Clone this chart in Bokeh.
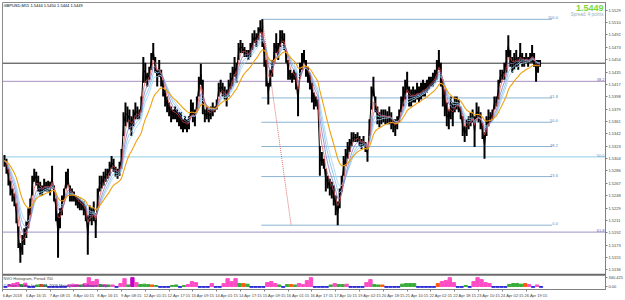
import numpy as np
from bokeh.plotting import figure
from bokeh.models import Range1d, FixedTicker, Span, Label, ColumnDataSource, PrintfTickFormatter
from bokeh.core.properties import value
from bokeh.embed import file_html
from bokeh.resources import INLINE

# ---------------- data ----------------
hi = [
    1.53100, 1.53040, 1.52890, 1.52710, 1.52590, 1.52515, 1.52365, 1.52020, 1.51765, 1.51885,
    1.51990, 1.52095, 1.52290, 1.52440, 1.52785, 1.52890, 1.52845, 1.52785, 1.52695, 1.52635,
    1.52740, 1.52695, 1.52710, 1.52695, 1.52935, 1.52635, 1.52440, 1.52215, 1.52290, 1.52485,
    1.52590, 1.52845, 1.52890, 1.52635, 1.52590, 1.52545, 1.52485, 1.52470, 1.52440, 1.52410,
    1.52395, 1.52335, 1.52185, 1.52335, 1.52290, 1.52395, 1.52215, 1.52590, 1.52785, 1.52785,
    1.52845, 1.52890, 1.52890, 1.52995, 1.53085, 1.53040, 1.52920, 1.52890, 1.52995, 1.53190,
    1.53745, 1.53895, 1.53835, 1.53790, 1.53685, 1.53790, 1.53895, 1.53835, 1.53790, 1.53985,
    1.54585, 1.54495, 1.54345, 1.54435, 1.54645, 1.54795, 1.54585, 1.54390, 1.54540, 1.54390,
    1.54240, 1.54090, 1.53985, 1.53895, 1.53835, 1.53790, 1.53835, 1.53790, 1.53745, 1.53745,
    1.53640, 1.53685, 1.53640, 1.53685, 1.53940, 1.53895, 1.53790, 1.53985, 1.54285, 1.54480,
    1.54240, 1.53790, 1.53835, 1.53790, 1.53835, 1.53895, 1.53835, 1.53940, 1.54195, 1.54240,
    1.54195, 1.54135, 1.54090, 1.54240, 1.54345, 1.54435, 1.54585, 1.54495, 1.54795, 1.54840,
    1.54795, 1.54735, 1.54690, 1.54690, 1.54795, 1.54945, 1.54990, 1.54945, 1.55035, 1.55140,
    1.55155, 1.54795, 1.54540, 1.54195, 1.54390, 1.54540, 1.54795, 1.54945, 1.54795, 1.54990,
    1.54990, 1.54945, 1.54645, 1.54540, 1.54390, 1.54345, 1.54390, 1.54345, 1.54135, 1.54495,
    1.54645, 1.54690, 1.54540, 1.54435, 1.54345, 1.54195, 1.54045, 1.53985, 1.53940, 1.53235,
    1.53145, 1.53040, 1.52890, 1.52785, 1.52740, 1.52695, 1.52635, 1.52485, 1.52395, 1.52590,
    1.52785, 1.53085, 1.53190, 1.53295, 1.53340, 1.53445, 1.53445, 1.53415, 1.53445, 1.53385,
    1.53340, 1.53385, 1.53295, 1.53235, 1.53640, 1.54135, 1.54285, 1.53985, 1.53835, 1.53745,
    1.53790, 1.53790, 1.53790, 1.53760, 1.53835, 1.53745, 1.53640, 1.53640, 1.53685, 1.53790,
    1.53985, 1.54135, 1.54240, 1.54360, 1.54135, 1.54090, 1.54135, 1.54090, 1.54195, 1.54135,
    1.54195, 1.54240, 1.54195, 1.54240, 1.54285, 1.54285, 1.54345, 1.54390, 1.54540, 1.54690,
    1.54495, 1.54240, 1.54090, 1.53895, 1.53790, 1.53985, 1.53895, 1.53985, 1.53985, 1.53940,
    1.53835, 1.53685, 1.53535, 1.53640, 1.53685, 1.53745, 1.53790, 1.53685, 1.53895, 1.53835,
    1.53745, 1.53595, 1.53445, 1.53685, 1.53790, 1.53745, 1.53790, 1.53985, 1.53985, 1.54240,
    1.54390, 1.54390, 1.54495, 1.54690, 1.54915, 1.54690, 1.54585, 1.54645, 1.54690, 1.54585,
    1.54795, 1.54645, 1.54585, 1.54645, 1.54585, 1.54645, 1.54765, 1.54645, 1.54540, 1.54540,
    1.54540,
]
lo = [
    1.52920, 1.52815, 1.52635, 1.52485, 1.52395, 1.52320, 1.52065, 1.51690, 1.51465, 1.51585,
    1.51735, 1.51840, 1.51990, 1.52185, 1.52485, 1.52695, 1.52635, 1.52545, 1.52485, 1.52485,
    1.52545, 1.52545, 1.52545, 1.52485, 1.52590, 1.52395, 1.52095, 1.51540, 1.51990, 1.52185,
    1.52395, 1.52590, 1.52635, 1.52395, 1.52395, 1.52395, 1.52335, 1.52290, 1.52260, 1.52260,
    1.52185, 1.52095, 1.51585, 1.52095, 1.52035, 1.52095, 1.51840, 1.52290, 1.52545, 1.52590,
    1.52635, 1.52695, 1.52740, 1.52785, 1.52890, 1.52845, 1.52770, 1.52740, 1.52785, 1.52890,
    1.53385, 1.53535, 1.53595, 1.53490, 1.53385, 1.53535, 1.53640, 1.53640, 1.53640, 1.53745,
    1.54195, 1.54195, 1.54135, 1.54240, 1.54390, 1.54540, 1.54345, 1.54135, 1.54285, 1.54135,
    1.53985, 1.53835, 1.53745, 1.53685, 1.53595, 1.53640, 1.53640, 1.53595, 1.53535, 1.53490,
    1.53445, 1.53490, 1.53445, 1.53490, 1.53685, 1.53595, 1.53535, 1.53790, 1.53985, 1.54165,
    1.53715, 1.53595, 1.53640, 1.53595, 1.53640, 1.53685, 1.53745, 1.53790, 1.53985, 1.54045,
    1.53985, 1.53940, 1.53835, 1.53985, 1.54090, 1.54135, 1.54285, 1.54195, 1.54540, 1.54645,
    1.54645, 1.54585, 1.54585, 1.54540, 1.54585, 1.54690, 1.54795, 1.54735, 1.54840, 1.54945,
    1.54735, 1.54435, 1.54135, 1.53865, 1.54135, 1.54285, 1.54495, 1.54645, 1.54540, 1.54735,
    1.54795, 1.54690, 1.54495, 1.54240, 1.54240, 1.54195, 1.54240, 1.54090, 1.53685, 1.54285,
    1.54390, 1.54495, 1.54285, 1.54195, 1.54090, 1.53895, 1.53790, 1.53835, 1.53790, 1.52785,
    1.52935, 1.52890, 1.52545, 1.52590, 1.52485, 1.52440, 1.52335, 1.52185, 1.52035, 1.52290,
    1.52545, 1.52785, 1.52935, 1.53040, 1.53145, 1.53235, 1.53295, 1.53295, 1.53295, 1.53235,
    1.53190, 1.53235, 1.53145, 1.52995, 1.53385, 1.53790, 1.53985, 1.53745, 1.53565, 1.53520,
    1.53565, 1.53595, 1.53565, 1.53565, 1.53565, 1.53490, 1.53445, 1.53385, 1.53490, 1.53595,
    1.53745, 1.53835, 1.53940, 1.54045, 1.53835, 1.53835, 1.53895, 1.53895, 1.53940, 1.53895,
    1.53940, 1.53985, 1.53985, 1.54045, 1.54090, 1.54135, 1.54135, 1.54195, 1.54240, 1.54390,
    1.54135, 1.53835, 1.53685, 1.53535, 1.53490, 1.53640, 1.53535, 1.53745, 1.53790, 1.53745,
    1.53640, 1.53385, 1.53295, 1.53385, 1.53490, 1.53535, 1.53595, 1.53220, 1.53640, 1.53595,
    1.53490, 1.53340, 1.53040, 1.53385, 1.53535, 1.53595, 1.53640, 1.53790, 1.53835, 1.53940,
    1.54195, 1.54240, 1.54240, 1.54345, 1.54585, 1.54435, 1.54345, 1.54390, 1.54435, 1.54390,
    1.54495, 1.54435, 1.54435, 1.54495, 1.54435, 1.54495, 1.54495, 1.54435, 1.54210, 1.54345,
    1.54435,
]

y_tick_values = [1.5529, 1.5510, 1.5492, 1.5473, 1.5454, 1.5435, 1.5417, 1.5398, 1.5379, 1.5361,
                 1.5342, 1.5323, 1.5304, 1.5286, 1.5267, 1.5248, 1.5229, 1.5211, 1.5192, 1.5173,
                 1.5155, 1.5136]

time_labels = ["6 Apr 2018", "6 Apr 16:15", "7 Apr 08:15", "8 Apr 00:15", "8 Apr 16:15",
               "9 Apr 08:15", "12 Apr 01:15", "12 Apr 17:15", "13 Apr 09:15", "14 Apr 01:15",
               "14 Apr 17:15", "15 Apr 09:15", "16 Apr 01:15", "16 Apr 17:15", "17 Apr 10:15",
               "19 Apr 02:15", "20 Apr 18:15", "21 Apr 10:15", "22 Apr 02:15", "22 Apr 18:15",
               "23 Apr 10:15", "24 Apr 02:15", "26 Apr 19:15"]

hist_vals = [
    -30, 76, 113, 151, 76, 130, -30, -30, 60, 76,
    60, -30, -30, -30, -30, -30, 60, 90, 76, 60,
    113, 340, 190, 270, 76, 76, 60, 60, -30, 113,
    300, 60, 340, 150, 76, 90, 76, 60, 40, -30,
    -30, -30, 40, 60, -30, 40, 76, 189, 150, -30,
    -30, -30, 113, -30, -30, 113, 300, 190, 302, 113,
    113, 90, -30, -30, -30, -30, 150, 189, 113, 60,
    -30, 76, 76, 60, 113, 76, 227, 340, -30, -30,
    -30, -30, 60, 113, 76, 76, 90, -30, -30, -30,
    -30, 150, 265, 76, 60, 60, -30, -30, -30, -30,
    90, 113, 113, 113, -30, -30, -30, -30, -30, 113,
    189, 227, 340, 150, -30, -30, 40, -30, 189, 340,
    265, 151, 113, -30, -30, -30, -30, 76, 113, 113,
    90, 113, 76, -30, 60, -30,
]
hist_kind = list("bpppgpbbgo" "gbbbbbpppg" "ppppgpgpbp" "pgmpgggogb" "bbggbgpppb"
                 "bbpbbppppg" "ogbbbbpppg" "bgogppppbb" "bbgpggpbbb" "bppggobbbb"
                 "ggggbbbbbo" "ppppbbgbpp" "pppbbbbggg" "gopbpb")

fib_levels = [0.0, 23.6, 38.2, 50.0, 61.8, 100.0]
fib_names = ["0.0", "23.6", "38.2", "50.0", "61.8", "100.0"]
ray_prices = [1.54215, 1.53070, 1.51930]
ray_names = ["38.2", "50.0", "61.8"]
last_price = 1.5449
title_text = "GBPUSD,M15  1.5444 1.5450 1.5444 1.5449"
hist_top = 340.425

# ---------------- layout constants ----------------
FONT = "Liberation Sans"
P_TOP, P_BOT = 1.55410, 1.51060
FR_TOP, FR_BOT = 2, 292
X0, X1 = -1, 303
H_UNIT = hist_top / 9.0
HS, HE = -(FR_BOT - 289) * H_UNIT, (289 - FR_TOP) * H_UNIT


def py(row):
    return P_TOP - (row - FR_TOP) / (FR_BOT - FR_TOP) * (P_TOP - P_BOT)


def hist_to_price(v):
    return P_BOT + (v - HS) / (HE - HS) * (P_TOP - P_BOT)


def ema(vals, n):
    a = 2.0 / (n + 1)
    e = vals[0]
    out = []
    for v in vals:
        e = e + a * (v - e)
        out.append(e)
    return out


bars = list(range(len(hi)))
mid = [(h + l) / 2 for h, l in zip(hi, lo)]
src = ColumnDataSource(dict(x=bars, hi=hi, lo=lo))

p = figure(width=625, height=300, x_range=Range1d(X0, X1), y_range=Range1d(P_BOT, P_TOP),
           y_axis_location="right", output_backend="svg", toolbar_location=None,
           min_border_left=2, min_border_right=0, min_border_top=2, min_border_bottom=0,
           background_fill_color="white", border_fill_color="white")
p.extra_y_ranges = {"hist": Range1d(HS, HE)}
p.grid.visible = False
p.outline_line_color = "#8c8c8c"

# long ray lines
ray_colors = ["#a890c0", "#8fcde8", "#a090c8"]
for pr, nm, c in zip(ray_prices, ray_names, ray_colors):
    p.add_layout(Span(location=pr, dimension="width", line_color=c, line_width=1, level="underlay"))
p.text(x=[302.5] * 3, y=ray_prices, text=ray_names, text_align="right", text_baseline="bottom",
       text_font=value(FONT), text_font_size="4px", text_color=["#7060a0", "#5a9cc8", "#7060a0"])

# current price line
p.add_layout(Span(location=last_price, dimension="width", line_color="#303030", line_width=1, level="underlay"))

# fibonacci
fib_high = max(hi)
fib_low = min(lo[130:])
fib_prices = [fib_low + lv / 100.0 * (fib_high - fib_low) for lv in fib_levels]
n = len(fib_prices)
p.segment(x0=[129.5] * n, y0=fib_prices, x1=[276] * n, y1=fib_prices, line_color="#8ab4d4", line_width=1)
p.text(x=[279] * n, y=fib_prices, text=fib_names, text_align="right", text_baseline="bottom",
       text_font=value(FONT), text_font_size="4px", text_color="#5a8cc0")
p.line(x=[130, 144.5], y=[fib_high, fib_low], line_color="#d04848", line_width=0.8, line_dash="1 1")

# price bars
p.segment(x0="x", y0="lo", x1="x", y1="hi", source=src, line_color="black", line_width=2.0)
p.line(bars, mid, line_color="black", line_width=1.0)

# moving averages
p.line(bars, ema(mid, 9), line_color="#a8d6f2", line_width=0.9)
p.line(bars, ema(mid, 7), line_color="#87c4ea", line_width=0.9)
p.line(bars, ema(mid, 5), line_color="#8878c8", line_width=0.8)
p.line(bars, ema(mid, 3), line_color="#e04848", line_width=0.7)
p.line(bars, ema(mid, 16), line_color="#f0a010", line_width=1.1)

# histogram sub-window
kind_color = {"b": "#2a2ad6", "p": "#ff4cc6", "m": "#c400c4", "g": "#38ac38", "o": "#ff5a10"}
hx = [0.5 + 2 * k for k in range(len(hist_vals))]
p.vbar(x=hx, top=hist_vals, bottom=0, width=1.7, color=[kind_color[k] for k in hist_kind],
       y_range_name="hist")
sep = py(277)
p.add_layout(Span(location=sep, dimension="width", line_color="#6c6c6c", line_width=2))
p.add_layout(Label(x=-0.5, y=(289 - 278.3) * H_UNIT, y_range_name="hist", text="NVO Histogram, Period 700",
                   text_font=FONT, text_font_size="4px", text_color="#404040", text_baseline="top"))
p.add_layout(Label(x=-0.5, y=(289 - 285.5) * H_UNIT, y_range_name="hist",
                   text="© Price Trades Inc.  2001-2009 MetaQuotes Software Corp.",
                   text_font=FONT, text_font_size="4px", text_color="#1c1c80", text_baseline="top"))

# titles
p.add_layout(Label(x=-0.5, y=py(2.3), text=title_text, text_font=FONT, text_font_size="4px",
                   text_color="#000000", text_baseline="top"))
p.add_layout(Label(x=302, y=py(7.5), text="1.5449", text_font=FONT, text_font_size="9px",
                   text_font_style="bold", text_color="#7ad83a", text_align="right", text_baseline="middle"))
p.add_layout(Label(x=302, y=py(14), text="Spread: 4 points", text_font=FONT, text_font_size="4.5px",
                   text_color="#98b0b4", text_align="right", text_baseline="middle"))

# right axis
hist_ticks = [hist_to_price(hist_top), hist_to_price(0.0)]
yax = p.yaxis[0]
yax.ticker = FixedTicker(ticks=y_tick_values + hist_ticks)
yax.formatter = PrintfTickFormatter(format="%.4f")
yax.major_label_overrides = {hist_ticks[0]: "340.425", hist_ticks[1]: "0.00"}
yax.major_label_text_font = FONT
yax.major_label_text_font_size = "4px"
yax.major_label_standoff = 1
yax.major_tick_out = 2
yax.major_tick_in = 0
yax.minor_tick_out = 0
yax.minor_tick_in = 0
yax.axis_line_color = "#808080"
yax.major_tick_line_color = "#808080"

p.add_layout(Label(x=X1, y=last_price, x_offset=1, text="1.5449", text_font=FONT, text_font_size="4px",
                   text_color="white", background_fill_color="black", text_baseline="middle"))

# bottom axis
starts = [-1 + 12 * k for k in range(len(time_labels))]
centers = [s + 5 for s in starts]
xax = p.xaxis[0]
xax.ticker = FixedTicker(ticks=centers, minor_ticks=starts)
xax.major_label_overrides = {c: t for c, t in zip(centers, time_labels)}
xax.major_label_text_font = FONT
xax.major_label_text_font_size = "4px"
xax.major_label_standoff = 1
xax.major_tick_out = 0
xax.major_tick_in = 0
xax.minor_tick_out = 2
xax.minor_tick_in = 0
xax.axis_line_color = "#808080"
xax.minor_tick_line_color = "#808080"

open("out.html", "w").write(file_html(p, INLINE))
